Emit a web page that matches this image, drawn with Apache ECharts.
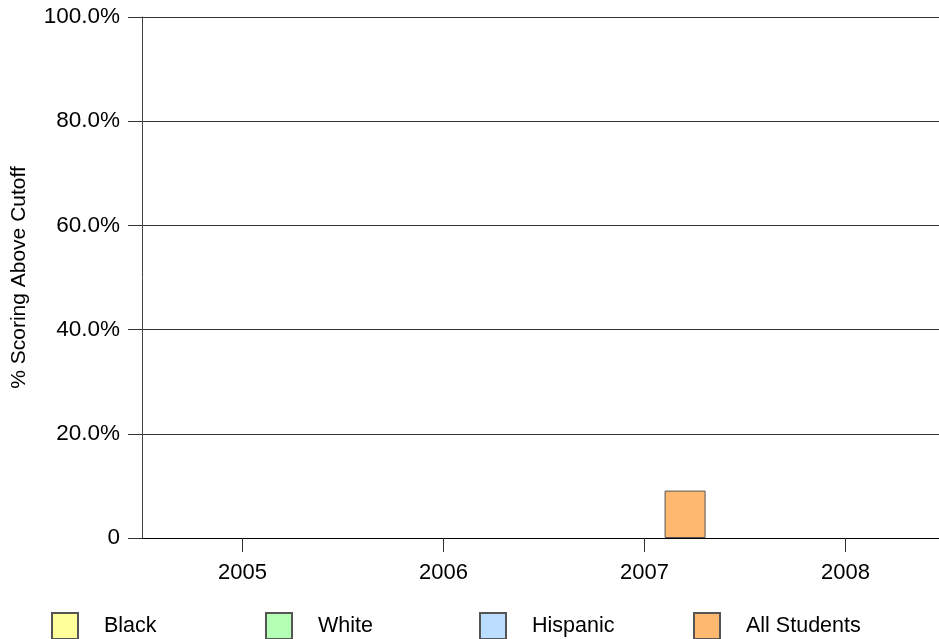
<!DOCTYPE html>
<html>
<head>
<meta charset="utf-8">
<script src="https://cdn.jsdelivr.net/npm/echarts@6/dist/echarts.min.js"></script>
<style>
html,body{margin:0;padding:0;background:#fff;}
#c{width:939px;height:639px;}
</style>
</head>
<body>
<div id="c"></div>
<script>
var categories = ['2005', '2006', '2007', '2008'];
var seriesNames = ['Black', 'White', 'Hispanic', 'All Students'];
var blackValues = [null, null, null, null];
var whiteValues = [null, null, null, null];
var hispanicValues = [null, null, null, null];
var allStudentsValues = [null, null, 9.1, null];
var yTicks = [0, 20, 40, 60, 80, 100];
var colors = ['#FFFF99', '#B3FFB3', '#BBDDFF', '#FFB870'];

var font = 'Arial, "Liberation Sans", sans-serif';
var valuesList = [blackValues, whiteValues, hispanicValues, allStudentsValues];
var legendLefts = [51, 265, 479, 693];

var series = seriesNames.map(function (name, i) {
  return {
    name: name,
    type: 'bar',
    data: valuesList[i],
    barWidth: 41,
    barGap: '-34%',
    itemStyle: { color: colors[i], borderColor: '#555', borderWidth: 1 },
    emphasis: { disabled: true },
    animation: false
  };
});

var legends = seriesNames.map(function (name, i) {
  return {
    data: [name],
    left: legendLefts[i],
    top: 612,
    padding: 0,
    itemWidth: 26,
    itemHeight: 26,
    icon: 'rect',
    selectedMode: false,
    textStyle: { fontFamily: font, fontSize: 21.5, color: '#000', padding: [0, 0, 0, 21] }
  };
});

var chart = echarts.init(document.getElementById('c'), null, { renderer: 'canvas' });
chart.setOption({
  animation: false,
  backgroundColor: '#fff',
  grid: { left: 142, width: 804, top: 17, bottom: 101, containLabel: false, outerBoundsMode: 'none' },
  legend: legends,
  xAxis: {
    type: 'category',
    data: categories,
    axisLine: { show: true, lineStyle: { color: '#000', width: 1 } },
    axisTick: { show: true, alignWithLabel: true, length: 14, lineStyle: { color: '#333' } },
    axisLabel: { margin: 24, fontFamily: font, fontSize: 22, color: '#000' },
    splitLine: { show: false }
  },
  yAxis: {
    type: 'value',
    min: 0,
    max: 100,
    interval: 20,
    name: '% Scoring Above Cutoff',
    nameLocation: 'middle',
    nameGap: 112,
    nameTextStyle: { fontFamily: font, fontSize: 21, color: '#000' },
    axisLine: { show: true, lineStyle: { color: '#444', width: 1 } },
    axisTick: { show: true, length: 14, lineStyle: { color: '#333' } },
    axisLabel: {
      margin: 22,
      fontFamily: font,
      fontSize: 22.5,
      color: '#000',
      formatter: function (v) { return v === 0 ? '0' : v.toFixed(1) + '%'; }
    },
    splitLine: { show: true, lineStyle: { color: '#333', width: 1 } }
  },
  series: series
});
</script>
</body>
</html>
